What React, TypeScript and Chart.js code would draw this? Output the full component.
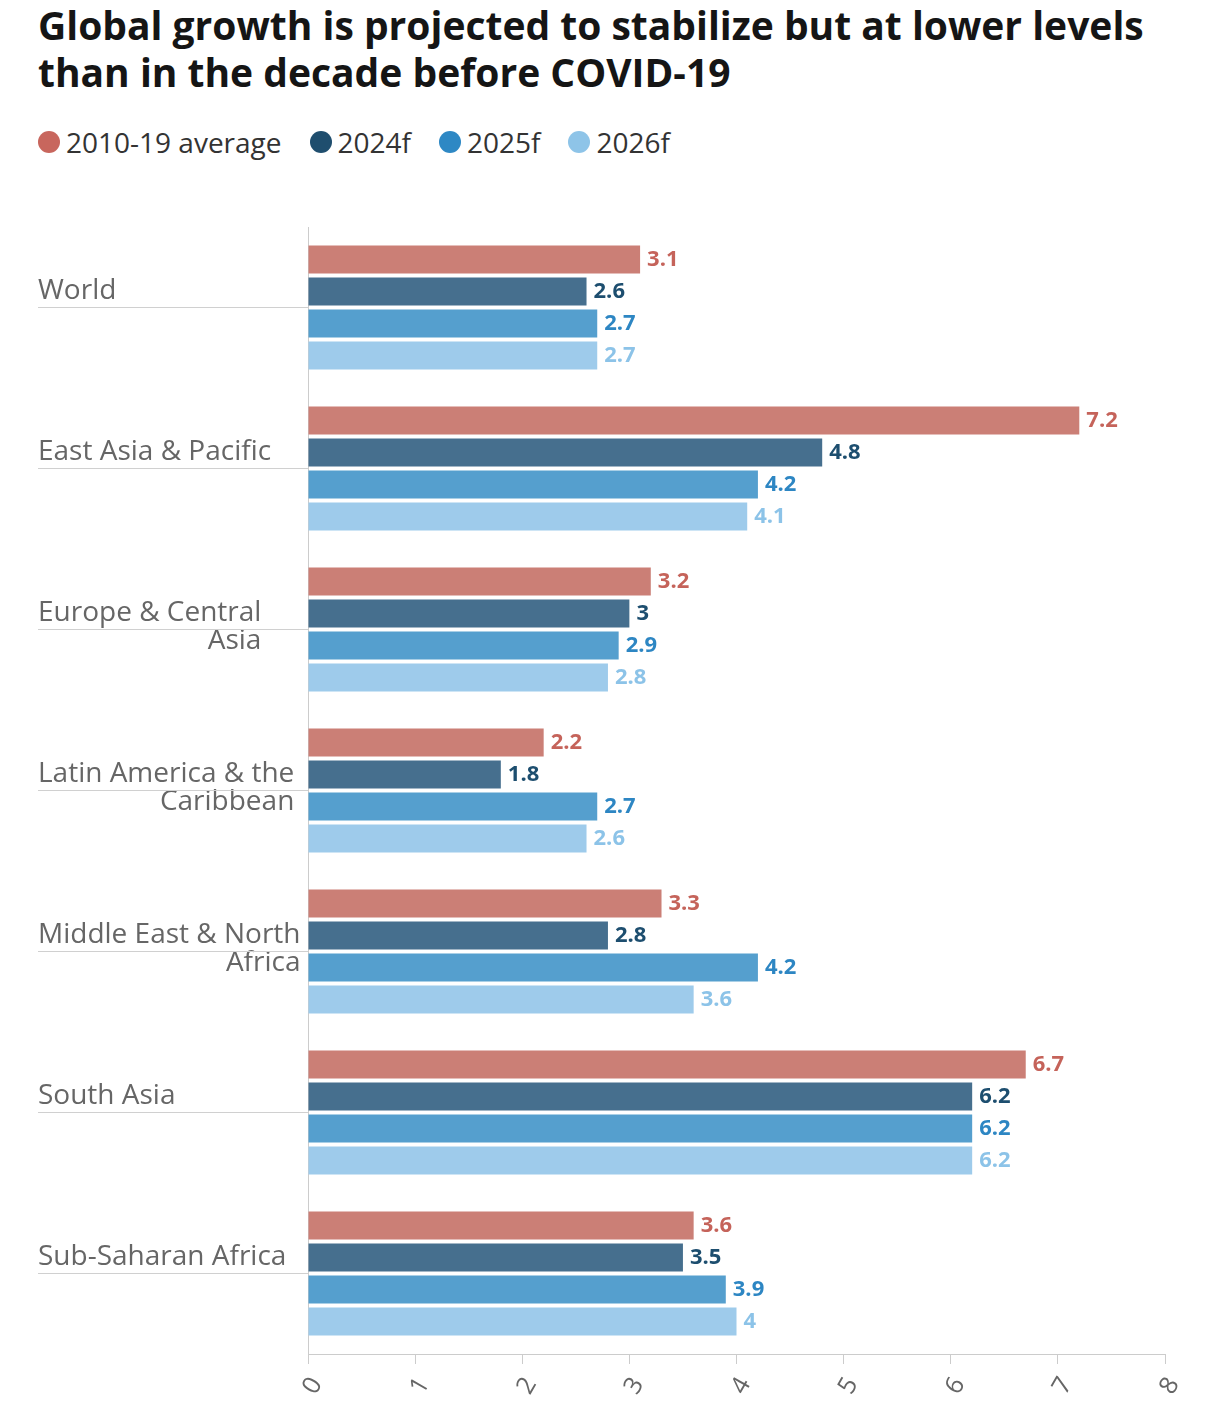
import React, { useEffect, useRef } from "react";
import { Chart, registerables } from "chart.js";

Chart.register(...registerables);

const title = [
  "Global growth is projected to stabilize but at lower levels",
  "than in the decade before COVID-19",
];

const categories: string[][] = [
  ["World"],
  ["East Asia & Pacific"],
  ["Europe & Central", "Asia"],
  ["Latin America & the", "Caribbean"],
  ["Middle East & North", "Africa"],
  ["South Asia"],
  ["Sub-Saharan Africa"],
];

const seriesNames = ["2010-19 average", "2024f", "2025f", "2026f"];
const avg2010_19 = [3.1, 7.2, 3.2, 2.2, 3.3, 6.7, 3.6];
const f2024 = [2.6, 4.8, 3.0, 1.8, 2.8, 6.2, 3.5];
const f2025 = [2.7, 4.2, 2.9, 2.7, 4.2, 6.2, 3.9];
const f2026 = [2.7, 4.1, 2.8, 2.6, 3.6, 6.2, 4.0];
const seriesValues = [avg2010_19, f2024, f2025, f2026];

const xTickLabels = ["0", "1", "2", "3", "4", "5", "6", "7", "8"];

const barColors = ["#cb7f76", "#466f8e", "#559fce", "#9ecbeb"];
const labelColors = ["#c5635a", "#1d4e6f", "#2d86c3", "#8cc3e8"];
const legendColors = ["#c8665d", "#1f4e6e", "#2e88c4", "#8ec4e8"];

const FONT = "'Open Sans', sans-serif";

const customDraw = {
  id: "customDraw",
  afterDraw(chart: any) {
    const ctx = chart.ctx;
    const yScale = chart.scales.y;
    const xScale = chart.scales.x;
    const area = chart.chartArea;
    ctx.save();
    // category labels + underline
    ctx.font = `28px ${FONT}`;
    ctx.fillStyle = "#666666";
    ctx.textBaseline = "alphabetic";
    categories.forEach((lines, i) => {
      const cy = yScale.getPixelForValue(i);
      const blockW = Math.max(...lines.map((l) => ctx.measureText(l).width));
      ctx.textAlign = "right";
      lines.forEach((l, j) => {
        ctx.fillText(l, 38 + blockW, cy - 9 + j * 28);
      });
      ctx.strokeStyle = "#d0d0d0";
      ctx.lineWidth = 1;
      ctx.beginPath();
      ctx.moveTo(38, Math.round(cy) - 0.5);
      ctx.lineTo(area.left, Math.round(cy) - 0.5);
      ctx.stroke();
    });
    // x tick labels rotated
    ctx.font = `25px ${FONT}`;
    ctx.fillStyle = "#666666";
    ctx.textAlign = "center";
    ctx.textBaseline = "middle";
    xTickLabels.forEach((t) => {
      const x = xScale.getPixelForValue(Number(t));
      ctx.save();
      ctx.translate(x + 5, area.bottom + 32);
      ctx.rotate((-60 * Math.PI) / 180);
      ctx.fillText(t, 0, 0);
      ctx.restore();
    });
    ctx.restore();
  },
  afterDatasetsDraw(chart: any) {
    const ctx = chart.ctx;
    ctx.save();
    ctx.font = `bold 22px ${FONT}`;
    ctx.textAlign = "left";
    ctx.textBaseline = "middle";
    chart.data.datasets.forEach((ds: any, di: number) => {
      const meta = chart.getDatasetMeta(di);
      ctx.fillStyle = labelColors[di];
      meta.data.forEach((el: any, i: number) => {
        ctx.fillText(String(ds.data[i]), el.x + 7, el.y);
      });
    });
    ctx.restore();
  },
};

export default function App() {
  const ref = useRef<HTMLCanvasElement | null>(null);
  useEffect(() => {
    if (!ref.current) return;
    const chart = new Chart(ref.current, {
      type: "bar",
      data: {
        labels: categories.map((c) => c.join(" ")),
        datasets: seriesNames.map((name, i) => ({
          label: name,
          data: seriesValues[i],
          backgroundColor: barColors[i],
          borderColor: barColors[i],
          borderWidth: 0,
          categoryPercentage: 0.796,
          barPercentage: 0.875,
        })),
      },
      options: {
        indexAxis: "y",
        animation: false,
        responsive: false,
        devicePixelRatio: 1,
        layout: { padding: { top: 227, right: 47, left: 0, bottom: 0 } },
        plugins: {
          legend: { display: false },
          title: { display: false },
          tooltip: { enabled: false },
        },
        scales: {
          x: {
            type: "linear",
            min: 0,
            max: 8,
            ticks: { stepSize: 1, display: false },
            grid: {
              drawOnChartArea: false,
              drawTicks: true,
              tickLength: 10,
              color: "#cccccc",
            },
            border: { display: true, color: "#cccccc", width: 1 },
            afterFit: (s: any) => {
              s.height = 58;
            },
          },
          y: {
            type: "category",
            ticks: { display: false },
            grid: { display: false, drawTicks: false },
            border: { display: true, color: "#cccccc", width: 1 },
            afterFit: (s: any) => {
              s.width = 308;
            },
          },
        },
      },
      plugins: [customDraw],
    });
    return () => chart.destroy();
  }, []);

  return (
    <div style={{ position: "absolute", left: 0, top: 0, width: 1212, height: 1412, background: "#fff" }}>
      <div
        style={{
          position: "absolute",
          left: 38,
          top: 1,
          fontFamily: FONT,
          fontWeight: 700,
          fontSize: 39,
          lineHeight: "47px",
          color: "#151515",
          whiteSpace: "nowrap",
        }}
      >
        {title.map((t, i) => (
          <div key={i}>{t}</div>
        ))}
      </div>
      <div
        style={{
          position: "absolute",
          left: 38,
          top: 123,
          display: "flex",
          alignItems: "center",
          fontFamily: FONT,
          fontSize: 28,
          lineHeight: "38px",
          color: "#333333",
          whiteSpace: "nowrap",
        }}
      >
        {seriesNames.map((n, i) => (
          <div key={i} style={{ display: "flex", alignItems: "center", marginRight: 28 }}>
            <span
              style={{
                display: "inline-block",
                width: 22,
                height: 22,
                borderRadius: 11,
                background: legendColors[i],
                marginRight: 6,
              }}
            />
            <span>{n}</span>
          </div>
        ))}
      </div>
      <canvas
        ref={ref}
        width={1212}
        height={1412}
        style={{ position: "absolute", left: 0, top: 0, width: 1212, height: 1412 }}
      />
    </div>
  );
}
